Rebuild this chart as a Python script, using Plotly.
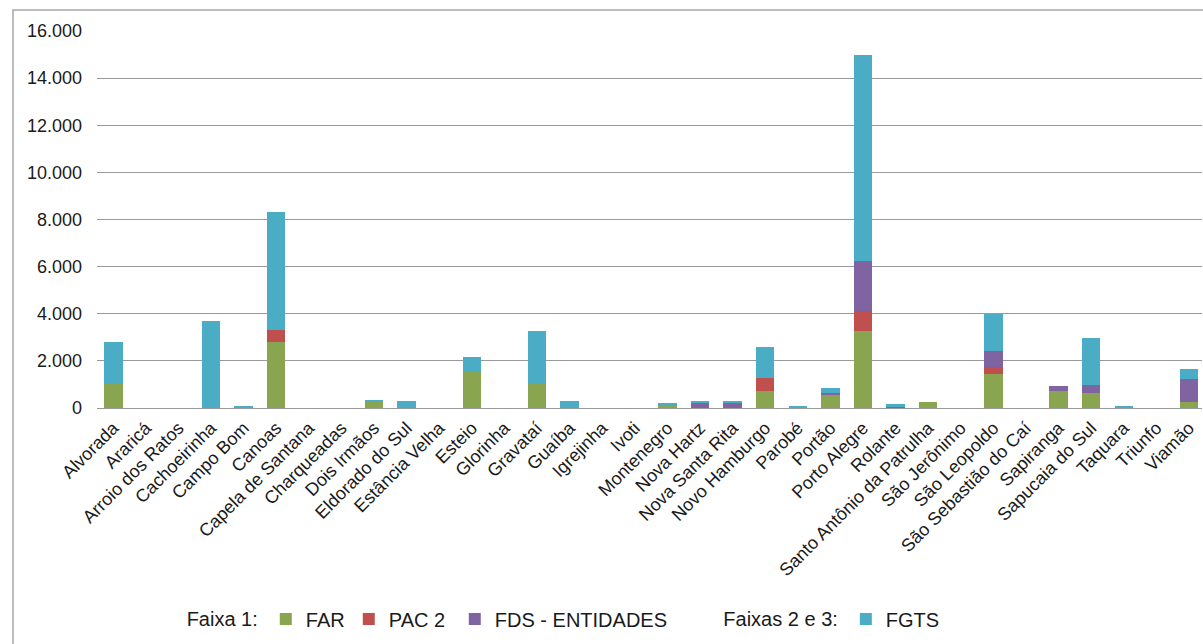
import plotly.graph_objects as go

categories = ["Alvorada", "Araricá", "Arroio dos Ratos", "Cachoeirinha", "Campo Bom", "Canoas",
              "Capela de Santana", "Charqueadas", "Dois Irmãos", "Eldorado do Sul", "Estância Velha",
              "Esteio", "Glorinha", "Gravataí", "Guaíba", "Igrejinha", "Ivoti", "Montenegro",
              "Nova Hartz", "Nova Santa Rita", "Novo Hamburgo", "Parobé", "Portão", "Porto Alegre",
              "Rolante", "Santo Antônio da Patrulha", "São Jerônimo", "São Leopoldo",
              "São Sebastião do Caí", "Sapiranga", "Sapucaia do Sul", "Taquara", "Triunfo", "Viamão"]

far = [1000, 0, 0, 0, 0, 2800, 0, 0, 270, 0, 0, 1580, 0, 1080, 0, 0, 0, 160, 0, 0,
       730, 0, 560, 3250, 0, 270, 0, 1450, 0, 730, 620, 0, 0, 270]
pac2 = [0, 0, 0, 0, 0, 500, 0, 0, 0, 0, 0, 0, 0, 0, 0, 0, 0, 0, 0, 0,
        550, 0, 0, 880, 80, 0, 0, 310, 0, 0, 0, 0, 0, 0]
fds = [0, 0, 0, 0, 0, 0, 0, 0, 0, 0, 0, 0, 0, 0, 0, 0, 0, 0, 230, 230,
       0, 0, 70, 2100, 0, 0, 0, 650, 0, 200, 370, 0, 0, 960]
fgts = [1800, 0, 0, 3700, 80, 5000, 0, 0, 40, 300, 0, 570, 0, 2170, 300, 0, 0, 40, 40, 40,
        1320, 85, 240, 8770, 70, 0, 0, 1570, 0, 0, 1960, 85, 0, 410]

yticks = [0, 2000, 4000, 6000, 8000, 10000, 12000, 14000, 16000]

FONT = "Liberation Sans, Arial, sans-serif"
TXT = "#1a1a1a"

fig = go.Figure()
fig.add_bar(x=categories, y=far, name="FAR", marker_color="#8AA54F", legend="legend", legendwidth=38)
fig.add_bar(x=categories, y=pac2, name="PAC 2", marker_color="#C0504D", legend="legend", legendwidth=61)
fig.add_bar(x=categories, y=fds, name="FDS - ENTIDADES", marker_color="#8064A2", legend="legend")
fig.add_bar(x=categories, y=fgts, name="FGTS", marker_color="#4BACC6", legend="legend2")
fig.update_traces(marker_line_width=0, hoverinfo="x+y+name")

fig.update_layout(
    width=1203, height=644, autosize=False,
    margin=dict(l=97, r=1, t=31, b=236),
    barmode="stack", bargap=0.435,
    paper_bgcolor="white", plot_bgcolor="white",
    separators=",.",
    font=dict(family=FONT, color=TXT, size=18),
    xaxis=dict(range=[-0.5, 33.4], tickangle=-45, tickfont=dict(size=18, family=FONT, color=TXT),
               showgrid=False, showline=False, zeroline=False, ticks="", ticklabelstandoff=5),
    yaxis=dict(range=[0, 16000], tickvals=yticks, tickformat=",d",
               tickfont=dict(size=18, family=FONT, color=TXT),
               showgrid=True, gridcolor="#9a9a9a", gridwidth=1.3,
               zeroline=True, zerolinecolor="#9a9a9a", zerolinewidth=1.3,
               showline=False, ticks="", ticklabelstandoff=14),
    legend=dict(orientation="h", x=0.0793, xanchor="left", y=-0.56, yanchor="middle",
                traceorder="normal",
                title=dict(text="Faixa 1:", side="left", font=dict(size=20, family=FONT, color=TXT)),
                font=dict(size=20, family=FONT, color=TXT), bgcolor="rgba(0,0,0,0)",
                itemclick=False, itemdoubleclick=False),
    legend2=dict(orientation="h", x=0.565, xanchor="left", y=-0.56, yanchor="middle",
                 traceorder="normal",
                 title=dict(text="Faixas 2 e 3:", side="left", font=dict(size=20, family=FONT, color=TXT)),
                 font=dict(size=20, family=FONT, color=TXT), bgcolor="rgba(0,0,0,0)",
                 itemclick=False, itemdoubleclick=False),
    shapes=[dict(type="rect", xref="paper", yref="paper",
                 x0=(13 - 97) / 1105, x1=1.2, y0=-1.5, y1=(408 - 10) / 377,
                 line=dict(color="#a6a6a6", width=1.5), fillcolor="rgba(0,0,0,0)", layer="below")],
)

fig.write_html("out.html")
